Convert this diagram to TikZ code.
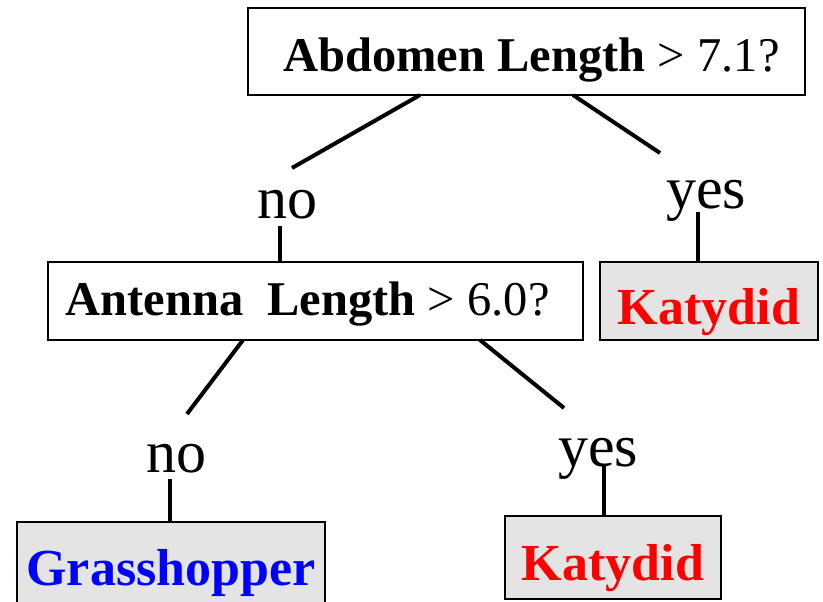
\documentclass[tikz,border=0pt]{standalone}
\usepackage{fontspec}
\setmainfont{Liberation Serif}
\definecolor{leafgray}{HTML}{E4E4E4}
\definecolor{katyred}{HTML}{FF0000}
\definecolor{hopperblue}{HTML}{0000FF}
\tikzset{
  question/.style={draw=black, line width=2pt, fill=white, inner sep=0pt,
    text depth=0pt, font=\fontsize{48.5}{56}\selectfont},
  leaf/.style={draw=black, line width=2pt, fill=leafgray, inner sep=0pt,
    text depth=0pt, font=\fontsize{52}{60}\selectfont\bfseries},
  answer/.style={anchor=base, inner sep=0pt, font=\fontsize{60}{70}\selectfont},
  branch/.style={line width=4pt},
}
\begin{document}
\begin{tikzpicture}[x=1pt, y=-1pt]
\useasboundingbox (0,0) rectangle (823,602);

% decision nodes (text height places the baseline inside the box)
\node[question, minimum width=557pt, minimum height=87pt, text height=40pt] (root) at (526.5,52)
  {\hspace*{10pt}{\bfseries Abdomen Length} > 7.1?};
\node[question, minimum width=535pt, minimum height=78pt, text height=28pt] (antenna) at (315.5,301)
  {{\bfseries Antenna\ \ Length} > 6.0?\hspace*{16pt}};

% leaves
\node[leaf, minimum width=218pt, minimum height=78pt, text height=47pt, text=katyred] (katy1) at (709,300.5) {Katydid};
\node[leaf, minimum width=216pt, minimum height=83pt, text height=45pt, text=katyred] (katy2) at (613,557.5) {Katydid};
\node[leaf, minimum width=308pt, minimum height=90pt, text height=36pt, text=hopperblue] (hopper) at (171,567) {Grasshopper};

% branch labels
\node[answer] (no1) at (287,218) {no};
\node[answer] (yes1) at (706,208) {yes};
\node[answer] (no2) at (176,472) {no};
\node[answer] (yes2) at (598,466) {yes};

% connector end points
\coordinate (r-no)   at (420,95);
\coordinate (no1-up) at (292,168);
\coordinate (no1-dn) at (280,226);
\coordinate (r-yes)  at (573,95);
\coordinate (yes1-up) at (660,153);
\coordinate (yes1-dn) at (698,212);
\coordinate (a-no)   at (243,340);
\coordinate (no2-up) at (187,414);
\coordinate (no2-dn) at (170,479);
\coordinate (a-yes)  at (480,340);
\coordinate (yes2-up) at (564,408);
\coordinate (yes2-dn) at (604,466);

% branches
\draw[branch] (r-no) -- (no1-up);
\draw[branch] (no1-dn) -- (no1-dn |- antenna.north);
\draw[branch] (r-yes) -- (yes1-up);
\draw[branch] (yes1-dn) -- (yes1-dn |- katy1.north);
\draw[branch] (a-no) -- (no2-up);
\draw[branch] (no2-dn) -- (no2-dn |- hopper.north);
\draw[branch] (a-yes) -- (yes2-up);
\draw[branch] (yes2-dn) -- (yes2-dn |- katy2.north);
\end{tikzpicture}
\end{document}
